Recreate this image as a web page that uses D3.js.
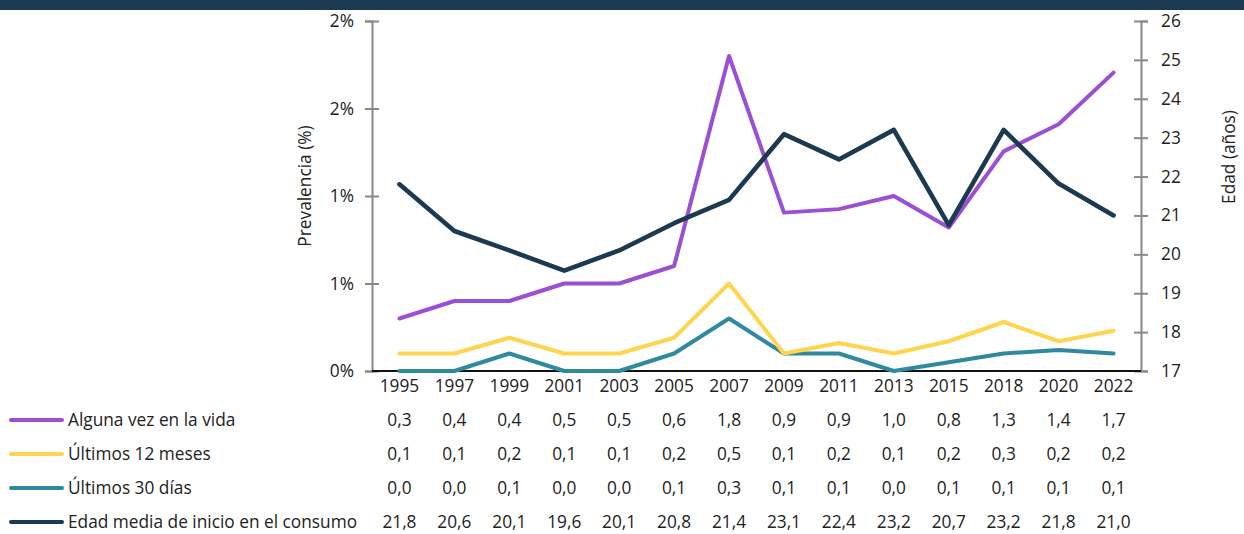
<!DOCTYPE html>
<html><head><meta charset="utf-8">
<script src="https://cdn.jsdelivr.net/npm/d3@7"></script>
<style>
body{margin:0;background:#fff;}
svg{display:block;font-family:"Open Sans","Noto Sans",sans-serif;}
</style></head>
<body>
<svg id="c" width="1244" height="534"></svg>
<script>
const years = ["1995","1997","1999","2001","2003","2005","2007","2009","2011","2013","2015","2018","2020","2022"];
// plotted values
const alguna = [0.30,0.40,0.40,0.50,0.50,0.60,1.80,0.905,0.925,1.00,0.82,1.255,1.41,1.705];
const ultimos12 = [0.10,0.10,0.19,0.10,0.10,0.19,0.50,0.10,0.16,0.10,0.17,0.28,0.17,0.23];
const ultimos30 = [0.00,0.00,0.10,0.00,0.00,0.10,0.30,0.10,0.10,0.00,0.05,0.10,0.12,0.10];
const edad = [21.8,20.6,20.1,19.58,20.1,20.8,21.4,23.09,22.44,23.2,20.75,23.2,21.82,21.0];
// table labels (as printed)
const tAlguna = ["0,3","0,4","0,4","0,5","0,5","0,6","1,8","0,9","0,9","1,0","0,8","1,3","1,4","1,7"];
const t12 = ["0,1","0,1","0,2","0,1","0,1","0,2","0,5","0,1","0,2","0,1","0,2","0,3","0,2","0,2"];
const t30 = ["0,0","0,0","0,1","0,0","0,0","0,1","0,3","0,1","0,1","0,0","0,1","0,1","0,1","0,1"];
const tEdad = ["21,8","20,6","20,1","19,6","20,1","20,8","21,4","23,1","22,4","23,2","20,7","23,2","21,8","21,0"];
const leftTicks = [0,0.5,1,1.5,2];
const leftTickLabels = ["0%","1%","1%","2%","2%"];
const rightTicks = [17,18,19,20,21,22,23,24,25,26];
const seriesNames = ["Alguna vez en la vida","Últimos 12 meses","Últimos 30 días","Edad media de inicio en el consumo"];
const seriesColors = ["#9b4fd3","#ffd54f","#2f8a9e","#1b3a52"];

const svg = d3.select("#c");
svg.append("rect").attr("x",0).attr("y",0).attr("width",1244).attr("height",10).attr("fill","#1b3a52");

const x0 = 372, x1 = 1141, yTop = 21, yBot = 371;
const x = d3.scaleBand().domain(years).range([x0,x1]);
const xc = d => x(d) + x.bandwidth()/2;
const yL = d3.scaleLinear().domain([0,2]).range([yBot,yTop]);
const yR = d3.scaleLinear().domain([17,26]).range([yBot,yTop]);

const fs = 17.3;
// left axis
const la = svg.append("g").attr("transform",`translate(${x0},0)`)
  .call(d3.axisLeft(yL).tickValues(leftTicks).tickFormat((d,i)=>leftTickLabels[i]).tickSizeOuter(0).tickSize(7).tickPadding(11));
la.select(".domain").attr("stroke","#888").attr("stroke-width",2);
la.selectAll(".tick line").attr("stroke","#888").attr("stroke-width",2).attr("x2",7).attr("x1",-7);
la.selectAll(".tick text").attr("font-size",fs).attr("fill","#222").attr("font-family","'Open Sans',sans-serif");
// right axis
const ra = svg.append("g").attr("transform",`translate(${x1},0)`)
  .call(d3.axisRight(yR).tickValues(rightTicks).tickSizeOuter(0).tickSize(7).tickPadding(13));
ra.select(".domain").attr("stroke","#888").attr("stroke-width",2);
ra.selectAll(".tick line").attr("stroke","#888").attr("stroke-width",2).attr("x1",-7).attr("x2",7);
ra.selectAll(".tick text").attr("font-size",fs).attr("fill","#222").attr("font-family","'Open Sans',sans-serif");

// x baseline
svg.append("line").attr("x1",x0).attr("x2",x1).attr("y1",yBot).attr("y2",yBot).attr("stroke","#111").attr("stroke-width",2);
// x labels
svg.append("g").selectAll("text").data(years).join("text")
  .attr("x",d=>xc(d)).attr("y",392).attr("text-anchor","middle").attr("font-size",fs).attr("fill","#222").text(d=>d);

// axis titles
svg.append("text").attr("transform","translate(311,186) rotate(-90)").attr("text-anchor","middle").attr("font-size",fs).attr("fill","#222").text("Prevalencia (%)");
svg.append("text").attr("transform","translate(1235,157) rotate(-90)").attr("text-anchor","middle").attr("font-size",fs).attr("fill","#222").text("Edad (años)");

// lines
const lineL = d3.line().x((d,i)=>xc(years[i])).y(d=>yL(d));
const lineR = d3.line().x((d,i)=>xc(years[i])).y(d=>yR(d));
const lineData = [[alguna,lineL,4],[ultimos12,lineL,4],[ultimos30,lineL,4],[edad,lineR,4.6]];
[2,1,0,3].forEach(k=>{
  svg.append("path").datum(lineData[k][0]).attr("d",lineData[k][1]).attr("fill","none")
    .attr("stroke",seriesColors[k]).attr("stroke-width",lineData[k][2]).attr("stroke-linejoin","round").attr("stroke-linecap","round");
});

// data table
const rowY = [420,454,488,522];
const tableVals = [tAlguna,t12,t30,tEdad];
tableVals.forEach((vals,r)=>{
  svg.append("line").attr("x1",11).attr("x2",62).attr("y1",rowY[r]).attr("y2",rowY[r])
    .attr("stroke",seriesColors[r]).attr("stroke-width",4).attr("stroke-linecap","round");
  svg.append("text").attr("x",68).attr("y",rowY[r]).attr("dy","0.35em").attr("font-size",fs).attr("fill","#222").text(seriesNames[r]);
  svg.append("g").selectAll("text").data(vals).join("text")
    .attr("x",(d,i)=>xc(years[i])).attr("y",rowY[r]).attr("dy","0.35em").attr("text-anchor","middle")
    .attr("font-size",fs).attr("fill","#222").text(d=>d);
});
</script>
</body></html>
